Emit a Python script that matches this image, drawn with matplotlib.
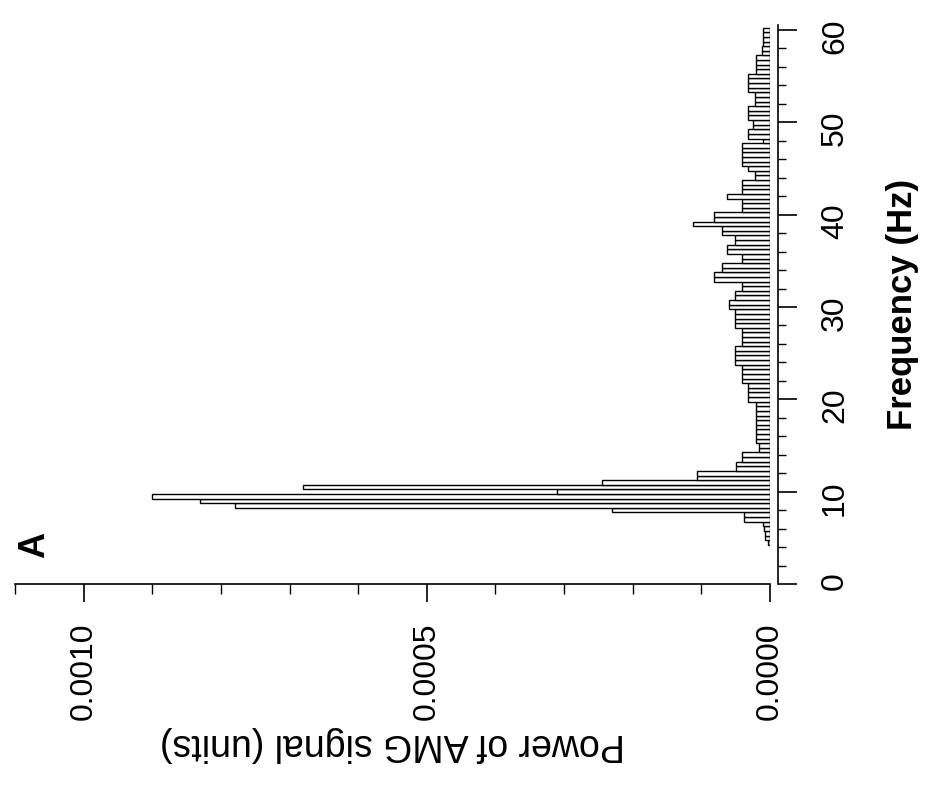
# rotated power spectrum of the AMG signal (panel A)

import numpy as np
import matplotlib
matplotlib.use("Agg")
import matplotlib.pyplot as plt
from matplotlib.ticker import MultipleLocator

plt.rcParams['font.family'] = ['Liberation Sans', 'DejaVu Sans']

# frequency bins (Hz), 0.5 Hz wide, and power in units of 1e-5
freq = np.arange(4.5, 60.5, 0.5)
power_1e5 = [
    0.3, 0.7, 0.7, 0.8, 1.0, 3.8, 3.8, 23, 78, 83,      # 4.5 - 9.0
    90, 31, 68, 24.5, 10.7, 10.7, 4.9, 4.9, 4.0, 4.0,    # 9.5 - 14.0
    1.6, 1.6, 2.0, 2.0, 2.0, 2.0, 2.0, 2.0, 2.0, 2.0,    # 14.5 - 19.0
    2.0, 3.2, 3.2, 3.2, 3.2, 4.1, 4.1, 4.1, 4.1, 5.1,    # 19.5 - 24.0
    5.1, 5.1, 5.1, 4.1, 4.1, 4.1, 4.1, 5.1, 5.1, 5.1,    # 24.5 - 29.0
    5.1, 6.0, 6.0, 5.1, 5.1, 4.1, 4.1, 8.2, 8.2, 7.0,    # 29.5 - 34.0
    7.0, 4.1, 4.1, 6.2, 6.2, 5.1, 5.1, 7.0, 7.0, 11.2,   # 34.5 - 39.0
    8.1, 8.1, 4.1, 4.1, 4.1, 6.2, 4.1, 4.1, 4.1, 2.2,    # 39.5 - 44.0
    2.2, 3.2, 4.1, 4.1, 4.1, 4.1, 4.1, 1.0, 3.2, 3.2,    # 44.5 - 49.0
    2.5, 2.5, 3.2, 3.2, 3.2, 2.2, 2.2, 2.2, 3.2, 3.2,    # 49.5 - 54.0
    3.2, 3.2, 2.0, 2.0, 2.0, 2.0, 1.2, 1.2, 1.0, 1.0,    # 54.5 - 59.0
    1.0, 1.0,                                            # 59.5 - 60.0
]
power = np.array(power_1e5) * 1e-5

freq_ticks = [0, 10, 20, 30, 40, 50, 60]
power_ticks = [0.0010, 0.0005, 0.0]
power_labels = ['0.0010', '0.0005', '0.0000']

fig = plt.figure(figsize=(9.3, 7.96), dpi=100)
ax = fig.add_axes([0.0161, 0.2663, 0.8118, 0.7018])

ax.barh(freq, power, height=0.5, color='white', edgecolor='black', linewidth=1)

ax.set_xlim(0.0011, 0)
ax.set_ylim(0, 60.5)

# axes look
ax.spines['top'].set_visible(False)
ax.spines['left'].set_visible(False)
ax.spines['right'].set_position(('outward', 6))
ax.spines['right'].set_linewidth(1.2)
ax.spines['bottom'].set_linewidth(1.2)

# frequency axis (on the right)
ax.yaxis.tick_right()
ax.yaxis.set_label_position('right')
ax.set_yticks(freq_ticks)
ax.set_yticklabels([str(f) for f in freq_ticks])
ax.yaxis.set_minor_locator(MultipleLocator(2))
ax.tick_params(axis='y', which='major', direction='out', length=14, width=1.2,
               pad=16, labelsize=23, labelrotation=90)
ax.tick_params(axis='y', which='minor', direction='out', length=6, width=1)

# power axis (at the bottom)
ax.set_xticks(power_ticks)
ax.set_xticklabels(power_labels)
ax.xaxis.set_minor_locator(MultipleLocator(0.0001))
ax.tick_params(axis='x', which='major', direction='out', length=13, width=1.2,
               pad=15, labelsize=23, labelrotation=90)
ax.tick_params(axis='x', which='minor', direction='out', length=7, width=1)

ax.set_ylabel('Frequency (Hz)', fontsize=25, fontweight='bold', rotation=90, labelpad=26)
ax.set_xlabel('Power of AMG signal (units)', fontsize=27, rotation=180, labelpad=4)

fig.text(35 / 930, 1 - 545 / 796, 'A', rotation=90, fontsize=26, fontweight='bold',
         ha='center', va='center')

plt.savefig('out.png', dpi=100)
